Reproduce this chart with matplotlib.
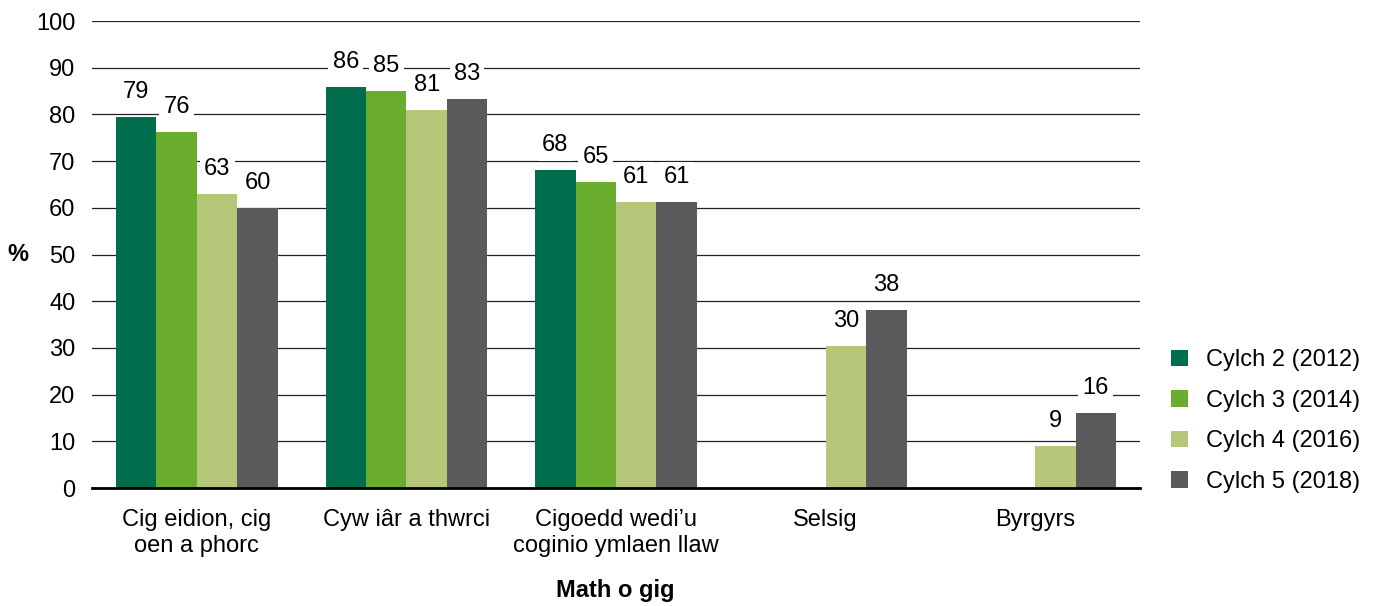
import numpy as np
import matplotlib.pyplot as plt
from matplotlib.patches import Patch

plt.rcParams['font.family'] = ['Liberation Sans', 'DejaVu Sans']

categories = ["Cig eidion, cig\noen a phorc", "Cyw iâr a thwrci",
              "Cigoedd wedi\u2019u\ncoginio ymlaen llaw", "Selsig", "Byrgyrs"]
series = ["Cylch 2 (2012)", "Cylch 3 (2014)", "Cylch 4 (2016)", "Cylch 5 (2018)"]
cylch2 = [79.4, 85.9, 68.0, np.nan, np.nan]
cylch3 = [76.2, 85.0, 65.5, np.nan, np.nan]
cylch4 = [63.0, 81.0, 61.2, 30.4, 9.0]
cylch5 = [60.0, 83.3, 61.2, 38.1, 16.0]
labels2 = ["79", "86", "68", "", ""]
labels3 = ["76", "85", "65", "", ""]
labels4 = ["63", "81", "61", "30", "9"]
labels5 = ["60", "83", "61", "38", "16"]
colors = ['#006e4c', '#6aac2e', '#b5c779', '#5a5a5c']

values = [cylch2, cylch3, cylch4, cylch5]
labels = [labels2, labels3, labels4, labels5]

fig = plt.figure(figsize=(13.76, 6.06), dpi=100)
ax = fig.add_axes([0.0669, 0.1947, 0.7616, 0.7706])

x = np.arange(len(categories))
w = 0.193
for i in range(4):
    xs = x + (i - 1.5) * w
    ax.bar(xs, values[i], w, color=colors[i], zorder=3)
    for xi, v, lab in zip(xs, values[i], labels[i]):
        if lab:
            ax.annotate(lab, (xi, v), xytext=(0, 18), textcoords='offset points',
                        ha='center', va='center', fontsize=17, zorder=4,
                        bbox=dict(facecolor='white', edgecolor='none', pad=3))

ax.set_xlim(-0.5, 4.5)
ax.set_ylim(0, 100)
ax.set_yticks(range(0, 101, 10))
ax.yaxis.grid(True, color='#222222', lw=0.9, zorder=0)
ax.set_axisbelow(True)
ax.set_xticks(x)
ax.set_xticklabels(categories, fontsize=17, linespacing=1.25)
ax.tick_params(axis='y', length=0, labelsize=17, pad=12)
ax.tick_params(axis='x', length=0, pad=15)
for s in ['top', 'right', 'left']:
    ax.spines[s].set_visible(False)
ax.spines['bottom'].set_linewidth(2)
ax.spines['bottom'].set_zorder(5)

fig.text(18 / 1376, 1 - 254 / 606, '%', fontsize=17, fontweight='bold', ha='center', va='center')
fig.text(615 / 1376, 1 - 590 / 606, 'Math o gig', fontsize=17, fontweight='bold', ha='center', va='center')

handles = [Patch(facecolor=c, edgecolor='none') for c in colors]
fig.legend(handles, series, loc='center left', bbox_to_anchor=(1162 / 1376, 1 - 421 / 606),
           frameon=False, fontsize=17, handlelength=0.7, handleheight=0.7,
           handletextpad=0.75, labelspacing=0.78, borderaxespad=0)

fig.savefig('out.png', dpi=100)
